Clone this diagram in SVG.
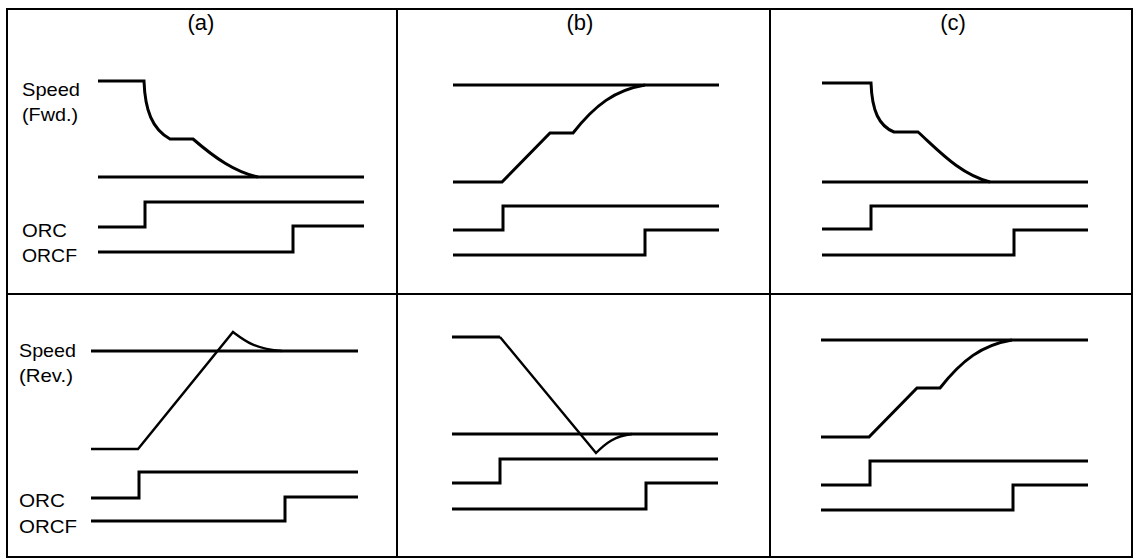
<svg xmlns="http://www.w3.org/2000/svg" width="1135" height="558" viewBox="0 0 1135 558">
<style>
.grid{fill:none;stroke:#000;stroke-width:2}
.w{fill:none;stroke:#000;stroke-width:3;stroke-linejoin:miter}
.t{stroke-width:2.4}
.lbl{font-family:"Liberation Sans",Arial,sans-serif;font-size:19px;fill:#000}
.hd{font-family:"Liberation Sans",Arial,sans-serif;font-size:22px;fill:#000;text-anchor:middle}
</style>
<rect width="1135" height="558" fill="#fff"/>
<g id="grid">
<rect class="grid" x="7" y="9" width="1125" height="548"/>
<line class="grid" x1="397" y1="9" x2="397" y2="557"/>
<line class="grid" x1="770" y1="9" x2="770" y2="557"/>
<line class="grid" x1="7" y1="294" x2="1132" y2="294"/>
</g>
<g id="headers">
<text class="hd" x="201" y="30">(a)</text>
<text class="hd" x="580" y="30">(b)</text>
<text class="hd" x="953" y="30">(c)</text>
</g>
<g id="labels">
<text class="lbl" x="22" y="96" textLength="58" lengthAdjust="spacingAndGlyphs">Speed</text>
<text class="lbl" x="22" y="121" textLength="56" lengthAdjust="spacingAndGlyphs">(Fwd.)</text>
<text class="lbl" x="22" y="237" textLength="45" lengthAdjust="spacingAndGlyphs">ORC</text>
<text class="lbl" x="22" y="262" textLength="55" lengthAdjust="spacingAndGlyphs">ORCF</text>
<text class="lbl" x="19" y="357" textLength="57" lengthAdjust="spacingAndGlyphs">Speed</text>
<text class="lbl" x="19" y="382" textLength="54" lengthAdjust="spacingAndGlyphs">(Rev.)</text>
<text class="lbl" x="19" y="507" textLength="46" lengthAdjust="spacingAndGlyphs">ORC</text>
<text class="lbl" x="19" y="533" textLength="58" lengthAdjust="spacingAndGlyphs">ORCF</text>
</g>
<g id="panel-a-fwd">
<path class="w" d="M98,81 H144 C145,110 152,129 170,139 H193 C215,158 235,172 258,177"/>
<path class="w" d="M98,177 H364"/>
<path class="w" d="M98,227 H145 V202 H364"/>
<path class="w" d="M98,252 H293 V226 H364"/>
</g>
<g id="panel-b-fwd">
<path class="w" d="M453,85 H719"/>
<path class="w" d="M453,182 H502 L550,133 H573 C595,105 615,90 645,85"/>
<path class="w" d="M453,230 H503 V206 H719"/>
<path class="w" d="M453,255 H645 V230 H719"/>
</g>
<g id="panel-c-fwd">
<path class="w" d="M822,83 H871 C872,111 879,126 894,132 H918 C940,152 960,174 990,182"/>
<path class="w" d="M822,182 H1088"/>
<path class="w" d="M822,229 H871 V206 H1088"/>
<path class="w" d="M822,255 H1014 V230 H1088"/>
</g>
<g id="panel-a-rev">
<path class="w" d="M91,351 H358"/>
<path class="w t" d="M91,449 H138 L233,332 C245,341 255,349 282,351"/>
<path class="w" d="M91,498 H139 V472 H358"/>
<path class="w" d="M91,521 H285 V497 H358"/>
</g>
<g id="panel-b-rev">
<path class="w" d="M452,337 H500"/>
<path class="w t" d="M500,337 L596,453 C606,443 615,436 632,434"/>
<path class="w" d="M452,434 H718"/>
<path class="w" d="M452,483 H500 V459 H718"/>
<path class="w" d="M452,509 H646 V483 H718"/>
</g>
<g id="panel-c-rev">
<path class="w" d="M821,340 H1088"/>
<path class="w" d="M821,437 H869 L917,388 H940 C962,360 982,345 1012,340"/>
<path class="w" d="M821,485 H870 V461 H1088"/>
<path class="w" d="M821,510 H1013 V485 H1088"/>
</g>
</svg>
